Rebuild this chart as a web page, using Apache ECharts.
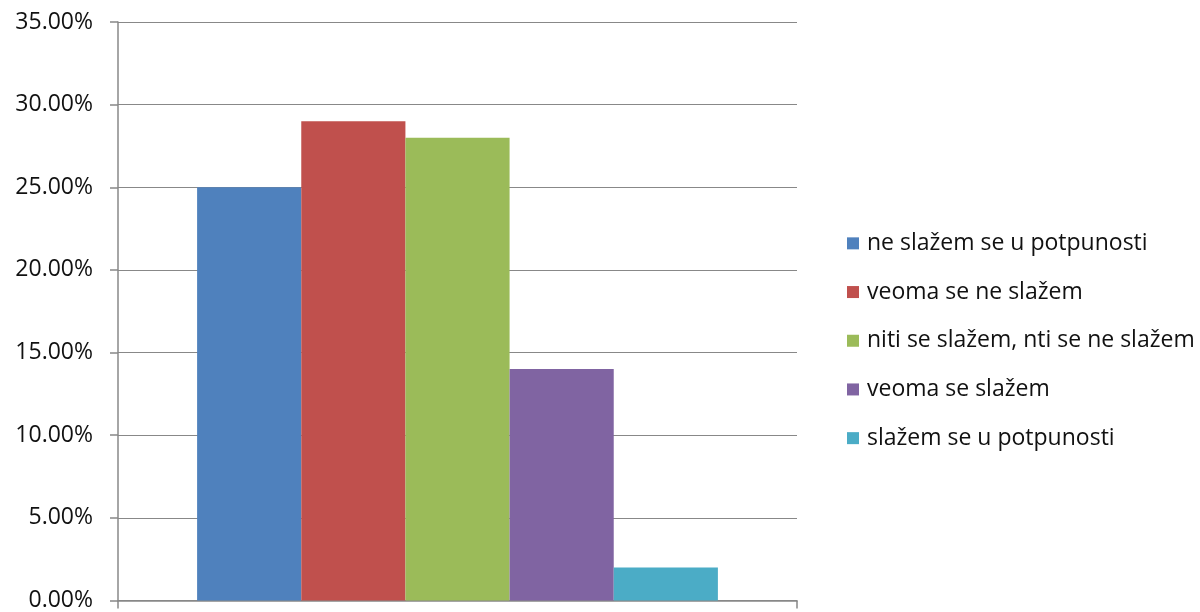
<!DOCTYPE html>
<html>
<head>
<meta charset="utf-8">
<script src="https://cdn.jsdelivr.net/npm/echarts@6/dist/echarts.min.js"></script>
<style>html,body{margin:0;padding:0;background:#fff;}#c{width:1200px;height:612px;}</style>
</head>
<body>
<div id="c"></div>
<script>
const categories = [''];
const seriesNames = ['ne slažem se u potpunosti', 'veoma se ne slažem', 'niti se slažem, nti se ne slažem', 'veoma se slažem', 'slažem se u potpunosti'];
const seriesValues = [0.25, 0.29, 0.28, 0.14, 0.02];
const seriesColors = ['#4F81BD', '#C0504D', '#9BBB59', '#8064A2', '#4BACC6'];
const yTicks = { min: 0, max: 0.35, interval: 0.05 };

const chart = echarts.init(document.getElementById('c'));
const font = '"Open Sans", sans-serif';
chart.setOption({
  animation: false,
  textStyle: { fontFamily: font },
  grid: { left: 118, right: 403, top: 22, bottom: 10, containLabel: false },
  legend: {
    orient: 'vertical',
    left: 842,
    top: 223,
    itemWidth: 12,
    itemHeight: 12,
    itemGap: 18,
    icon: 'rect',
    textStyle: { fontSize: 23, lineHeight: 30.7, color: '#111', fontFamily: font, padding: [0, 0, 0, 3] },
    data: seriesNames
  },
  xAxis: {
    type: 'category',
    data: categories,
    axisLine: { lineStyle: { color: '#888', width: 1.5 } },
    axisTick: { show: true, length: 8, lineStyle: { color: '#888', width: 1.5 } },
    axisLabel: { show: false }
  },
  yAxis: {
    type: 'value',
    min: yTicks.min, max: yTicks.max, interval: yTicks.interval,
    axisLine: { show: true, lineStyle: { color: '#888', width: 1.5 } },
    axisTick: { show: true, length: 8, lineStyle: { color: '#888', width: 1.5 } },
    splitLine: { lineStyle: { color: '#888', width: 1.2 } },
    axisLabel: {
      fontSize: 23, color: '#111', margin: 25, fontFamily: font,
      formatter: v => (v * 100).toFixed(2) + '%'
    }
  },
  series: seriesNames.map((n, i) => ({
    name: n,
    type: 'bar',
    data: [seriesValues[i]],
    itemStyle: { color: seriesColors[i] },
    barGap: 0,
    barCategoryGap: '23.3%'
  }))
});
</script>
</body>
</html>
